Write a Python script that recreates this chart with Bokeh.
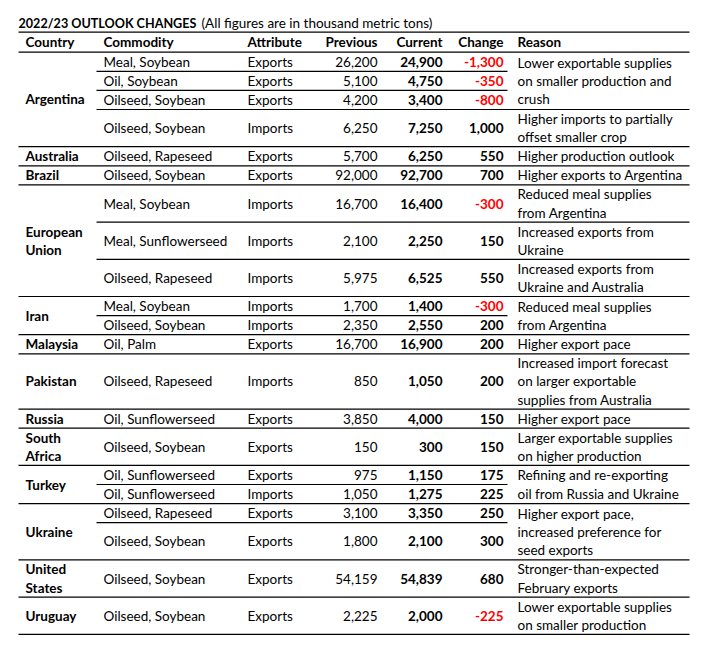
from bokeh.plotting import figure
from bokeh.models import Range1d, ColumnDataSource
from bokeh.core.properties import value
from bokeh.embed import file_html
from bokeh.resources import INLINE

# ---------------- data ----------------
title_bold = "2022/23 OUTLOOK CHANGES"
title_note = "(All figures are in thousand metric tons)"
headers = ["Country", "Commodity", "Attribute", "Previous", "Current", "Change", "Reason"]

countries = ["Argentina", "Australia", "Brazil", "European\nUnion", "Iran", "Malaysia",
             "Pakistan", "Russia", "South\nAfrica", "Turkey", "Ukraine", "United\nStates", "Uruguay"]
country_rows = [4, 1, 1, 3, 2, 1, 1, 1, 1, 2, 2, 1, 1]

commodities = ["Meal, Soybean", "Oil, Soybean", "Oilseed, Soybean", "Oilseed, Soybean",
               "Oilseed, Rapeseed", "Oilseed, Soybean",
               "Meal, Soybean", "Meal, Sunflowerseed", "Oilseed, Rapeseed",
               "Meal, Soybean", "Oilseed, Soybean", "Oil, Palm", "Oilseed, Rapeseed",
               "Oil, Sunflowerseed", "Oilseed, Soybean", "Oil, Sunflowerseed", "Oil, Sunflowerseed",
               "Oilseed, Rapeseed", "Oilseed, Soybean", "Oilseed, Soybean", "Oilseed, Soybean"]
attributes = ["Exports", "Exports", "Exports", "Imports", "Exports", "Exports",
              "Imports", "Imports", "Imports", "Imports", "Imports", "Exports", "Imports",
              "Exports", "Exports", "Exports", "Imports", "Exports", "Exports", "Exports", "Exports"]
previous = [26200, 5100, 4200, 6250, 5700, 92000, 16700, 2100, 5975, 1700, 2350, 16700, 850,
            3850, 150, 975, 1050, 3100, 1800, 54159, 2225]
current = [24900, 4750, 3400, 7250, 6250, 92700, 16400, 2250, 6525, 1400, 2550, 16900, 1050,
           4000, 300, 1150, 1275, 3350, 2100, 54839, 2000]
change = [-1300, -350, -800, 1000, 550, 700, -300, 150, 550, -300, 200, 200, 200,
          150, 150, 175, 225, 250, 300, 680, -225]

reasons = ["Lower exportable supplies\non smaller production and\ncrush",
           "Higher imports to partially\noffset smaller crop",
           "Higher production outlook",
           "Higher exports to Argentina",
           "Reduced meal supplies\nfrom Argentina",
           "Increased exports from\nUkraine",
           "Increased exports from\nUkraine and Australia",
           "Reduced meal supplies\nfrom Argentina",
           "Higher export pace",
           "Increased import forecast\non larger exportable\nsupplies from Australia",
           "Higher export pace",
           "Larger exportable supplies\non higher production",
           "Refining and re-exporting\noil from Russia and Ukraine",
           "Higher export pace,\nincreased preference for\nseed exports",
           "Stronger-than-expected\nFebruary exports",
           "Lower exportable supplies\non smaller production"]
reason_rows = [3, 1, 1, 1, 1, 1, 1, 2, 1, 1, 1, 1, 2, 2, 1, 1]

# ---------------- layout ----------------
row_lines = [1, 1, 1, 2, 1, 1, 2, 2, 2, 1, 1, 1, 3, 1, 2, 1, 1, 1, 2, 2, 2]
LINE = 18.1
PAD = 1.0
FONT = value("Lato")
FS = "13.5px"

X_LEFT, X_RIGHT = 18, 689
X_INNER0, X_INNER1 = 96, 507
X_COUNTRY, X_COMM, X_ATTR = 25, 103, 247
X_PREV, X_CURR, X_CHG, X_REASON = 377, 442, 503, 517
Y_TITLE, Y_TOP, Y_HEAD = 22.5, 31.7, 51.7

W, H = 700, 640
p = figure(width=W, height=H, output_backend="svg", toolbar_location=None,
           x_range=Range1d(0, W), y_range=Range1d(H, 0),
           x_axis_location=None, y_axis_location=None, min_border=0,
           outline_line_color=None, tools="")
p.xgrid.visible = False
p.ygrid.visible = False

# row edges
edges = [Y_HEAD]
for n in row_lines:
    edges.append(edges[-1] + n * LINE + PAD)
centers = [(edges[i] + edges[i + 1]) / 2 for i in range(len(row_lines))]


def add_text(xs, ys, texts, align="left", bold=False, colors=None, size=FS):
    src = ColumnDataSource(dict(x=xs, y=ys, t=texts,
                                c=colors if colors else ["#000000"] * len(xs)))
    p.text("x", "y", text="t", source=src, text_font=FONT, text_font_size=size,
           text_align=align, text_baseline="middle", text_color="c",
           text_font_style="bold" if bold else "normal")


def multiline(x, yc, s):
    parts = s.split("\n")
    n = len(parts)
    ys = [yc + (k - (n - 1) / 2) * LINE for k in range(n)]
    return [x] * n, ys, parts


# title
add_text([X_LEFT], [Y_TITLE], [title_bold], bold=True, size="12.6px")
add_text([X_LEFT + 183], [Y_TITLE], [title_note])

# headers
yh = (Y_TOP + Y_HEAD) / 2
add_text([X_COUNTRY, X_COMM, X_ATTR, X_REASON], [yh] * 4,
         [headers[0], headers[1], headers[2], headers[6]], bold=True)
add_text([X_PREV, X_CURR, X_CHG], [yh] * 3, [headers[3], headers[4], headers[5]],
         align="right", bold=True)

# body columns
nrows = len(commodities)
add_text([X_COMM] * nrows, centers, commodities)
add_text([X_ATTR] * nrows, centers, attributes)
add_text([X_PREV] * nrows, centers, [f"{v:,}" for v in previous], align="right")
add_text([X_CURR] * nrows, centers, [f"{v:,}" for v in current], align="right", bold=True)
add_text([X_CHG] * nrows, centers, [f"{v:,}" for v in change], align="right", bold=True,
         colors=["#FF0000" if v < 0 else "#000000" for v in change])

# countries (merged cells)
cx, cy, ct = [], [], []
country_bounds = set()
r = 0
for name, n in zip(countries, country_rows):
    yc = (edges[r] + edges[r + n]) / 2
    xs, ys, ts = multiline(X_COUNTRY, yc, name)
    cx += xs; cy += ys; ct += ts
    r += n
    country_bounds.add(r)
add_text(cx, cy, ct, bold=True)

# reasons (merged cells)
rx, ry, rt = [], [], []
reason_bounds = set()
r = 0
for s, n in zip(reasons, reason_rows):
    yc = (edges[r] + edges[r + n]) / 2
    xs, ys, ts = multiline(X_REASON, yc, s)
    rx += xs; ry += ys; rt += ts
    r += n
    reason_bounds.add(r)
add_text(rx, ry, rt)

# rules
x0s, x1s, ys = [X_LEFT, X_LEFT], [X_RIGHT, X_RIGHT], [Y_TOP, Y_HEAD]
for i in range(1, nrows + 1):
    if i in country_bounds:
        x0, x1 = X_LEFT, X_RIGHT
    elif i in reason_bounds:
        x0, x1 = X_INNER0, X_RIGHT
    else:
        x0, x1 = X_INNER0, X_INNER1
    x0s.append(x0); x1s.append(x1); ys.append(edges[i])
p.segment(x0=x0s, x1=x1s, y0=ys, y1=ys, line_color="#000000", line_width=1.2)

open("out.html", "w").write(file_html(p, INLINE))
